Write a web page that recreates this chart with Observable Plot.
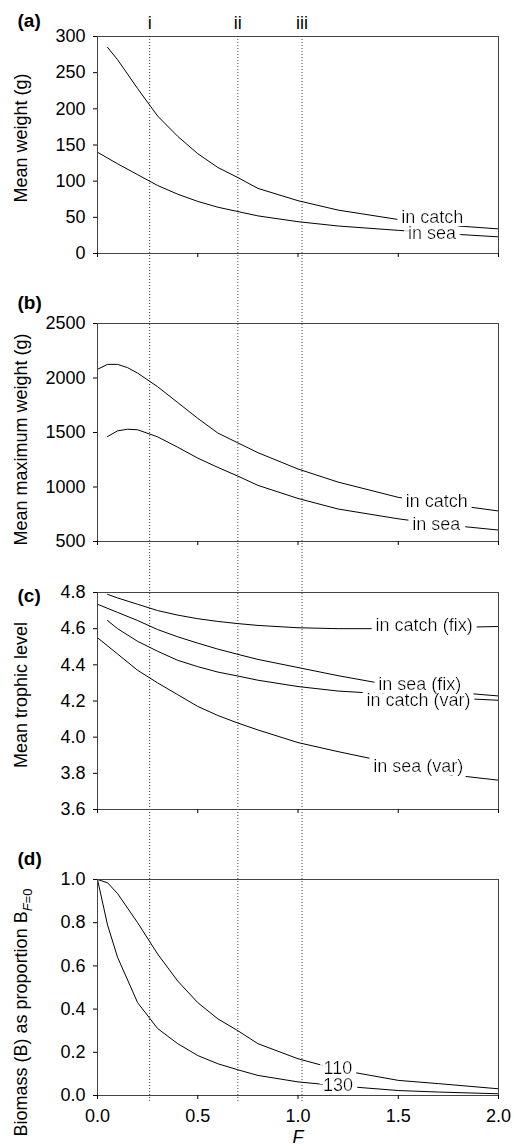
<!DOCTYPE html>
<html><head><meta charset="utf-8">
<script src="https://cdn.jsdelivr.net/npm/d3@7"></script>
<script src="https://cdn.jsdelivr.net/npm/@observablehq/plot@0.6"></script>
<style>
body{margin:0;background:#fff;}
#fig{position:relative;width:514px;height:1147px;background:#fff;}
#fig svg{position:absolute;left:0;display:block;}
</style></head><body><div id="fig"></div>
<script>
// ---------- data ----------
const xTicks = [0, 0.5, 1.0, 1.5, 2.0];
const fishingRates = [0.26, 0.70, 1.02];
const romans = ["i", "ii", "iii"];

// (a) mean weight (g)
const fA_catch = [0.05,0.1,0.2,0.3,0.4,0.5,0.6,0.7,0.8,1.0,1.2,1.5,1.7,2.0];
const wA_catch = [285,268,228,190,162,138,119,105,90,73,60,47,40,34];
const fA_sea = [0,0.1,0.2,0.3,0.4,0.5,0.6,0.7,0.8,1.0,1.2,1.5,1.7,2.0];
const wA_sea = [140,124,109,94,82,72,64,58,52,44,38,32,28,23];
const yTicksA = [0,50,100,150,200,250,300];
const labA = ["in catch","in sea"];
const labA_F = [1.67,1.668];
const labA_v = [49.8,28.3];

// (b) mean maximum weight (g)
const fB_catch = [0,0.05,0.1,0.15,0.2,0.3,0.4,0.5,0.6,0.7,0.8,1.0,1.2,1.5,1.7,2.0];
const wB_catch = [2080,2125,2125,2095,2045,1920,1775,1630,1495,1405,1315,1165,1045,905,855,780];
const fB_sea = [0.05,0.1,0.15,0.2,0.3,0.4,0.5,0.6,0.7,0.8,1.0,1.2,1.5,1.7,2.0];
const wB_sea = [1463,1515,1530,1525,1460,1365,1265,1180,1100,1015,895,798,708,660,605];
const yTicksB = [500,1000,1500,2000,2500];
const labB = ["in catch","in sea"];
const labB_F = [1.692,1.689];
const labB_v = [868,662];

// (c) mean trophic level
const fC_full = [0,0.1,0.2,0.3,0.4,0.5,0.6,0.7,0.8,1.0,1.2,1.5,1.7,2.0];
const fC_late = [0.05,0.1,0.2,0.3,0.4,0.5,0.6,0.7,0.8,1.0,1.2,1.5,1.7,2.0];
const tlC_catchFix = [4.79,4.77,4.735,4.70,4.675,4.655,4.64,4.628,4.618,4.605,4.60,4.60,4.605,4.612];
const tlC_seaFix = [4.735,4.69,4.645,4.595,4.555,4.52,4.487,4.458,4.43,4.385,4.34,4.28,4.255,4.228];
const tlC_catchVar = [4.645,4.60,4.53,4.475,4.425,4.39,4.36,4.338,4.315,4.28,4.255,4.235,4.22,4.204];
const tlC_seaVar = [4.55,4.46,4.37,4.30,4.235,4.17,4.12,4.078,4.04,3.97,3.92,3.85,3.80,3.762];
const yTicksC = [3.6,3.8,4.0,4.2,4.4,4.6,4.8];
const labC = ["in catch (fix)","in sea (fix)","in catch (var)","in sea (var)"];
const labC_F = [1.629,1.607,1.601,1.60];
const labC_v = [4.621,4.295,4.205,3.838];

// (d) biomass as proportion of B(F=0)
const fD = [0,0.05,0.1,0.2,0.3,0.4,0.5,0.6,0.7,0.8,1.0,1.2,1.5,1.7,2.0];
const bD_110 = [1.0,0.985,0.935,0.80,0.655,0.53,0.43,0.355,0.30,0.24,0.17,0.12,0.07,0.055,0.031];
const bD_130 = [1.0,0.79,0.64,0.43,0.31,0.24,0.185,0.147,0.119,0.093,0.063,0.045,0.023,0.016,0.008];
const yTicksD = [0,0.2,0.4,0.6,0.8,1.0];
const labD = ["110","130"];
const labD_F = [1.199,1.199];
const labD_v = [0.128,0.046];

// ---------- drawing ----------
const FONT = "'Liberation Sans', Arial, Helvetica, sans-serif";
const ns = "http://www.w3.org/2000/svg";
const rows = (fs, vs) => fs.map((f, i) => ({F: f, v: vs[i]}));
const fig = document.getElementById("fig");
let panelId = 0;

function panel(c) {
  const id = "halo" + (panelId++);
  const labRows = c.labels.map((t, i) => ({t, F: c.labelF[i], v: c.labelV[i]}));
  const marks = [
    Plot.ruleX(fishingRates, {x: d => d, stroke: "#444", strokeWidth: 1, strokeDasharray: "1,2",
      insetTop: -c.ruleTop, insetBottom: -c.ruleBottom}),
    ...c.series.map(s => Plot.line(s, {x: "F", y: "v", stroke: "black", strokeWidth: 1})),
    Plot.text(labRows, {x: "F", y: "v", text: "t", fill: "black", fontSize: 18,
      textAnchor: "middle", lineAnchor: "middle"}),
    Plot.frame({stroke: "#444", strokeWidth: 1}),
    Plot.axisY({ticks: c.yTicks, tickFormat: c.yFormat, tickSize: 4, tickPadding: 8, fontSize: 18, label: null}),
    c.xLabels
      ? Plot.axisX({ticks: xTicks, tickFormat: d3.format(".1f"), tickSize: 4, tickPadding: 10, fontSize: 18, label: null})
      : Plot.axisX({ticks: xTicks, tickFormat: () => "", tickSize: 4, label: null}),
    Plot.text([c.tag], {text: d => d, frameAnchor: "top-left", textAnchor: "start", lineAnchor: "middle",
      dx: -80, dy: c.tagDy, fontWeight: "bold", fontSize: 19}),
    Plot.text([c.yLabel], {text: d => d, frameAnchor: "left", textAnchor: "middle", lineAnchor: "middle",
      dx: -76, dy: c.yLabelDy, rotate: -90, fontSize: 18})
  ];
  if (c.romans) {
    marks.push(Plot.text(romans.map((r, i) => ({r, F: fishingRates[i]})), {x: "F", text: "r",
      frameAnchor: "top", textAnchor: "middle", lineAnchor: "middle", dy: -13, fontSize: 18}));
  }
  if (c.xTitle) {
    marks.push(Plot.text([c.xTitle], {text: d => d, frameAnchor: "bottom", textAnchor: "middle", lineAnchor: "middle",
      dy: 42, fontSize: 18, fontStyle: "italic"}));
  }
  const svg = Plot.plot({
    width: 514, height: c.height,
    marginLeft: 97, marginRight: 16, marginTop: c.marginTop, marginBottom: c.marginBottom,
    x: {domain: [0, 2]},
    y: {domain: c.yDomain},
    style: {fontFamily: FONT, background: "transparent", color: "black"},
    marks
  });
  // white halo under the curve labels, so each curve is interrupted where its label sits
  const defs = document.createElementNS(ns, "defs");
  const filter = document.createElementNS(ns, "filter");
  filter.setAttribute("id", id);
  filter.setAttribute("x", "-0.2"); filter.setAttribute("y", "-0.4");
  filter.setAttribute("width", "1.4"); filter.setAttribute("height", "1.8");
  const morph = document.createElementNS(ns, "feMorphology");
  morph.setAttribute("in", "SourceAlpha"); morph.setAttribute("operator", "dilate");
  morph.setAttribute("radius", "5 3"); morph.setAttribute("result", "d");
  const flood = document.createElementNS(ns, "feFlood");
  flood.setAttribute("flood-color", "white"); flood.setAttribute("result", "w");
  const comp = document.createElementNS(ns, "feComposite");
  comp.setAttribute("in", "w"); comp.setAttribute("in2", "d"); comp.setAttribute("operator", "in");
  comp.setAttribute("result", "h");
  const merge = document.createElementNS(ns, "feMerge");
  for (const r of ["h", "SourceGraphic"]) {
    const n = document.createElementNS(ns, "feMergeNode");
    n.setAttribute("in", r);
    merge.appendChild(n);
  }
  filter.append(morph, flood, comp, merge);
  defs.appendChild(filter);
  svg.insertBefore(defs, svg.firstChild);
  const labelTexts = [...svg.querySelectorAll("text")].filter(t => c.labels.includes(t.textContent));
  if (labelTexts.length) labelTexts[0].parentNode.setAttribute("filter", `url(#${id})`);
  svg.style.top = c.top + "px";
  fig.appendChild(svg);
  return svg;
}

panel({
  top: 0, height: 288, marginTop: 36, marginBottom: 35, yDomain: [0, 300], yTicks: yTicksA, yFormat: d3.format("d"),
  series: [rows(fA_catch, wA_catch), rows(fA_sea, wA_sea)],
  labels: labA, labelF: labA_F, labelV: labA_v,
  tag: "(a)", tagDy: -16, yLabel: "Mean weight (g)", yLabelDy: -7,
  ruleTop: 0, ruleBottom: 35, romans: true
});
panel({
  top: 288, height: 269, marginTop: 35, marginBottom: 16, yDomain: [500, 2500], yTicks: yTicksB, yFormat: d3.format("d"),
  series: [rows(fB_catch, wB_catch), rows(fB_sea, wB_sea)],
  labels: labB, labelF: labB_F, labelV: labB_v,
  tag: "(b)", tagDy: -21, yLabel: "Mean maximum weight (g)", yLabelDy: 7,
  ruleTop: 35, ruleBottom: 16
});
panel({
  top: 557, height: 288, marginTop: 35, marginBottom: 36, yDomain: [3.6, 4.8], yTicks: yTicksC, yFormat: d3.format(".1f"),
  series: [rows(fC_late, tlC_catchFix), rows(fC_full, tlC_seaFix), rows(fC_late, tlC_catchVar), rows(fC_full, tlC_seaVar)],
  labels: labC, labelF: labC_F, labelV: labC_v,
  tag: "(c)", tagDy: 3, yLabel: "Mean trophic level", yLabelDy: -6,
  ruleTop: 35, ruleBottom: 36
});
const dLabel = "Biomass (B) as proportion B";
const svgD = panel({
  top: 845, height: 302, marginTop: 34, marginBottom: 52, yDomain: [0, 1], yTicks: yTicksD, yFormat: d3.format(".1f"),
  series: [rows(fD, bD_110), rows(fD, bD_130)],
  labels: labD, labelF: labD_F, labelV: labD_v,
  tag: "(d)", tagDy: -21, yLabel: dLabel, yLabelDy: 25,
  ruleTop: 34, ruleBottom: 8, xLabels: true, xTitle: "F"
});
// subscript F=0 on the (d) axis title
for (const t of svgD.querySelectorAll("text")) {
  if (t.textContent === dLabel) {
    const sub = document.createElementNS(ns, "tspan");
    sub.setAttribute("dy", "0.35em");
    sub.setAttribute("font-size", "13");
    const fi = document.createElementNS(ns, "tspan");
    fi.setAttribute("font-style", "italic");
    fi.textContent = "F";
    sub.appendChild(fi);
    sub.appendChild(document.createTextNode("=0"));
    t.appendChild(sub);
  }
}
</script></body></html>
